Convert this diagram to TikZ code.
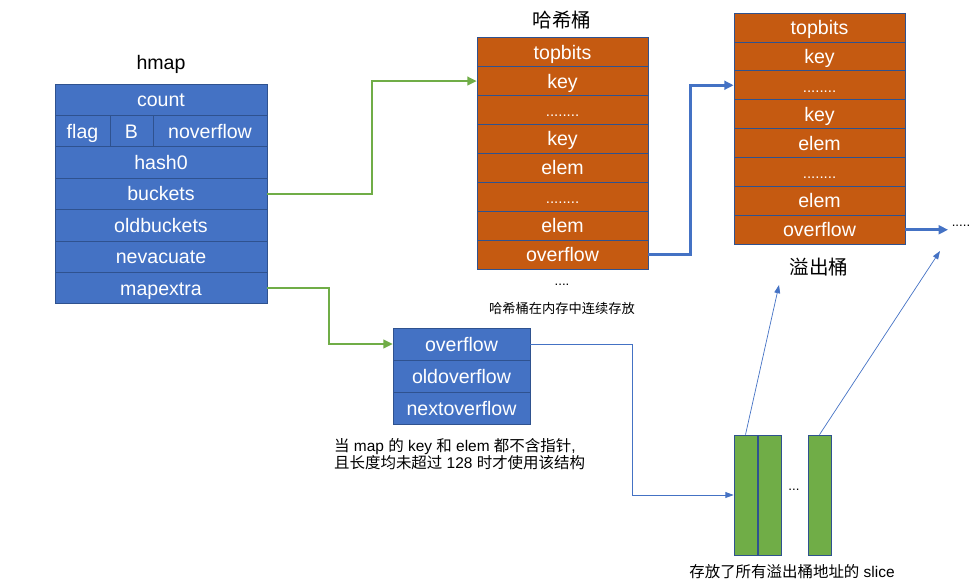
\documentclass[tikz,border=0pt]{standalone}
\usepackage{fontspec}
\setmainfont{Liberation Sans}
\newfontfamily\cjk{Noto Sans CJK SC}
\usepackage{xcolor}
\usepackage{tikz}
\usetikzlibrary{arrows.meta}
\definecolor{hblue}{HTML}{4472C4}
\definecolor{hedge}{HTML}{2F528F}
\definecolor{horange}{HTML}{C55A11}
\definecolor{hgreen}{HTML}{70AD47}
\newcommand\rowdots{{\fontsize{12.8}{14}\selectfont ........}}

\begin{document}
\begin{tikzpicture}[x=0.03cm,y=-0.03cm,
field/.style={draw=hedge,line width=0.6pt,text=white,inner sep=0pt,
  text height=15pt,text depth=3pt,font=\fontsize{16.7}{20}\selectfont},
hfield/.style={field,fill=hblue,minimum height=0.942cm,minimum width=#1},
hfield/.default=6.36cm,
bfield/.style={field,fill=horange,minimum height=0.867cm,minimum width=5.13cm},
xfield/.style={field,fill=hblue,minimum height=0.96cm,minimum width=4.11cm},
slot/.style={draw=hedge,line width=0.6pt,fill=hgreen,minimum width=0.69cm,minimum height=3.6cm,inner sep=0pt},
title/.style={font=\fontsize{16.7}{20}\selectfont},
note/.style={font=\fontsize{13.2}{14.5}\selectfont},
small/.style={font=\fontsize{11.3}{13}\selectfont},
glink/.style={draw=hgreen,line width=1.6pt,-{Triangle[length=8pt,width=7.5pt]}},
olink/.style={draw=hblue,line width=2.2pt,-{Triangle[length=8pt,width=7.5pt]}},
tlink/.style={draw=hblue,line width=0.6pt,-{Triangle[length=7pt,width=5pt]}}
]
\useasboundingbox (0,0) rectangle (980,583);

% The hmap struct
\node[title] (hmaplbl) at (161,64) {hmap};
\foreach \i/\lbl in {1/count,3/hash0,4/buckets,5/oldbuckets,6/nevacuate,7/mapextra}
  \node[hfield] (hm\i) at (161,{84+31.4*(\i-0.5)}) {\lbl};
\node[hfield=1.65cm] (hm2a) at (82.5,131.1) {flag};
\node[hfield=1.29cm] (hm2b) at (131.5,131.1) {B};
\node[hfield=3.42cm] (hm2c) at (210,131.1) {noverflow};

% The buckets
\node[title] (bktlbl) at (562,20) {\cjk 哈希桶};
\foreach \lbl [count=\i] in {topbits,key,\rowdots,key,elem,\rowdots,elem,overflow}
  \node[bfield] (b\i) at (562.5,{37.7+28.9*(\i-0.5)}) {\lbl};
\node[small] (bktdots) at (562,285) {....};
\node[small] (bktnote) at (562,308) {\cjk 哈希桶在内存中连续存放};

% The overflow bucket
\foreach \lbl [count=\i] in {topbits,key,\rowdots,key,elem,\rowdots,elem,overflow}
  \node[bfield] (o\i) at (819.5,{13+28.9*(\i-0.5)}) {\lbl};
\node[title] (ovflbl) at (819,267) {\cjk 溢出桶};
\node[small,inner sep=3pt] (more) at (961,226) {.....};

% The mapextra struct
\foreach \lbl [count=\i] in {overflow,oldoverflow,nextoverflow}
  \node[xfield] (ex\i) at (461.5,{328+32*(\i-0.5)}) {\lbl};
\node[note,anchor=west,align=left] (exnote) at (330,454)
  {{\cjk 当} map {\cjk 的} key {\cjk 和} elem {\cjk 都不含指针},\\
   {\cjk 且长度均未超过} 128 {\cjk 时才使用该结构}};

% The slice
\foreach \x [count=\i] in {745.5,769.5,819.5}
  \node[slot] (s\i) at (\x,495) {};
\node[small] (slicedots) at (794,490) {...};
\node[note] (slicelbl) at (792,572) {{\cjk 存放了所有溢出桶地址的} slice};

% The links
\draw[glink] (hm4.east) -- ++(105,0) |- (b2.west);
\draw[glink] (hm7.east) -- ++(62,0) |- (ex1.west);
\draw[olink] (b8.east) -- ++(42,0) |- (o3.west);
\draw[olink] (o8.east) -- (o8.east -| more.west);
\draw[tlink] (ex1.east) -- ++(102,0) |- (s1.west);
\coordinate (t1) at (779,285);
\coordinate (t2) at (940,251);
\draw[tlink] (s1.north) -- (t1);
\draw[tlink] (s3.north) -- (t2);
\end{tikzpicture}
\end{document}
